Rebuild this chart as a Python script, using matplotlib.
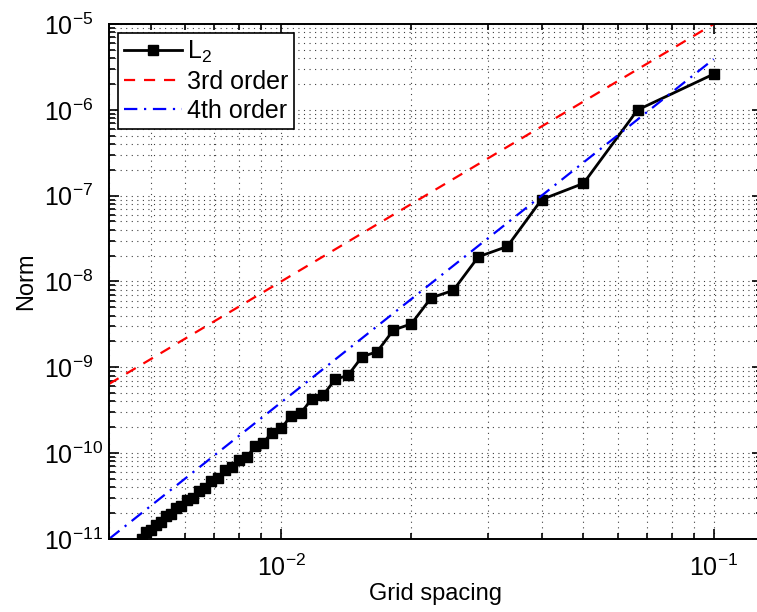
import matplotlib
matplotlib.use('Agg')
import matplotlib.pyplot as plt
import numpy as np

plt.rcParams['font.family'] = ['Liberation Sans', 'DejaVu Sans']
plt.rcParams['mathtext.fontset'] = 'custom'
plt.rcParams['mathtext.rm'] = 'Liberation Sans'
plt.rcParams['mathtext.it'] = 'Liberation Sans:italic'
plt.rcParams['mathtext.bf'] = 'Liberation Sans:bold'

# number of cells, grid spacing h = 1/N
grid_n = [10, 15, 20, 25, 30, 35, 40, 45, 50, 55, 60, 65, 70, 75, 80, 85,
          90, 95, 100, 105, 110, 115, 120, 125, 130, 135, 140, 145, 150,
          155, 160, 165, 170, 175, 180, 185, 190, 195, 200, 205, 210]
l2_norm = [2.61e-6, 9.96e-7, 1.39e-7, 9.0e-8, 2.56e-8, 1.94e-8, 7.87e-9,
           6.46e-9, 3.21e-9, 2.72e-9, 1.52e-9, 1.33e-9, 8.1e-10, 7.22e-10,
           4.74e-10, 4.26e-10, 2.95e-10, 2.70e-10, 1.94e-10, 1.74e-10,
           1.32e-10, 1.22e-10, 8.9e-11, 8.3e-11, 6.87e-11, 6.34e-11,
           5.12e-11, 4.72e-11, 3.88e-11, 3.64e-11, 3.01e-11, 2.83e-11,
           2.41e-11, 2.29e-11, 1.94e-11, 1.84e-11, 1.57e-11, 1.47e-11,
           1.27e-11, 1.20e-11, 1.0e-11]

# reference slope lines (end points)
ref_h = [0.004, 0.1]
third_order = [6.4e-10, 1.0e-5]
fourth_order = [1.0e-11, 3.9e-6]

h = 1.0 / np.array(grid_n)

fig = plt.figure(figsize=(7.57, 6.12), dpi=100)
ax = fig.add_axes([0.144, 0.1193, 0.862, 0.8415])

ax.loglog(h, l2_norm, 'k-s', lw=2, ms=7, label='L$_2$')
ax.loglog(ref_h, third_order, 'r--', lw=1.6, dashes=(5, 4), label='3rd order')
ax.loglog(ref_h, fourth_order, 'b-.', lw=1.6, dashes=(6, 3, 1, 3), label='4th order')

ax.set_xlim(0.004, 0.129)
ax.set_ylim(1e-11, 1e-5)
ax.set_yticks([1e-11, 1e-10, 1e-9, 1e-8, 1e-7, 1e-6, 1e-5])

ax.grid(True, which='both', linestyle=(0, (1, 4)), color='k', lw=0.8, alpha=0.75)
ax.tick_params(which='both', direction='in', top=True, right=True,
               labelsize=18, width=1.2)
ax.tick_params(which='major', length=7)
ax.tick_params(axis='y', which='major', pad=47)
ax.tick_params(axis='x', which='major', pad=11)
ax.tick_params(which='minor', length=4)
for lab in ax.get_yticklabels():
    lab.set_horizontalalignment('left')
for s in ax.spines.values():
    s.set_linewidth(1.4)

ax.set_xlabel('Grid spacing', fontsize=17, labelpad=2)
ax.set_ylabel('Norm', fontsize=17, labelpad=5)

leg = ax.legend(loc='upper left', fontsize=18, fancybox=False, framealpha=1,
                edgecolor='k', borderpad=0.25, labelspacing=0.2,
                handlelength=2.3, handletextpad=0.2, borderaxespad=0.35)
leg.get_frame().set_linewidth(1.2)

fig.savefig('out.png', dpi=100)
